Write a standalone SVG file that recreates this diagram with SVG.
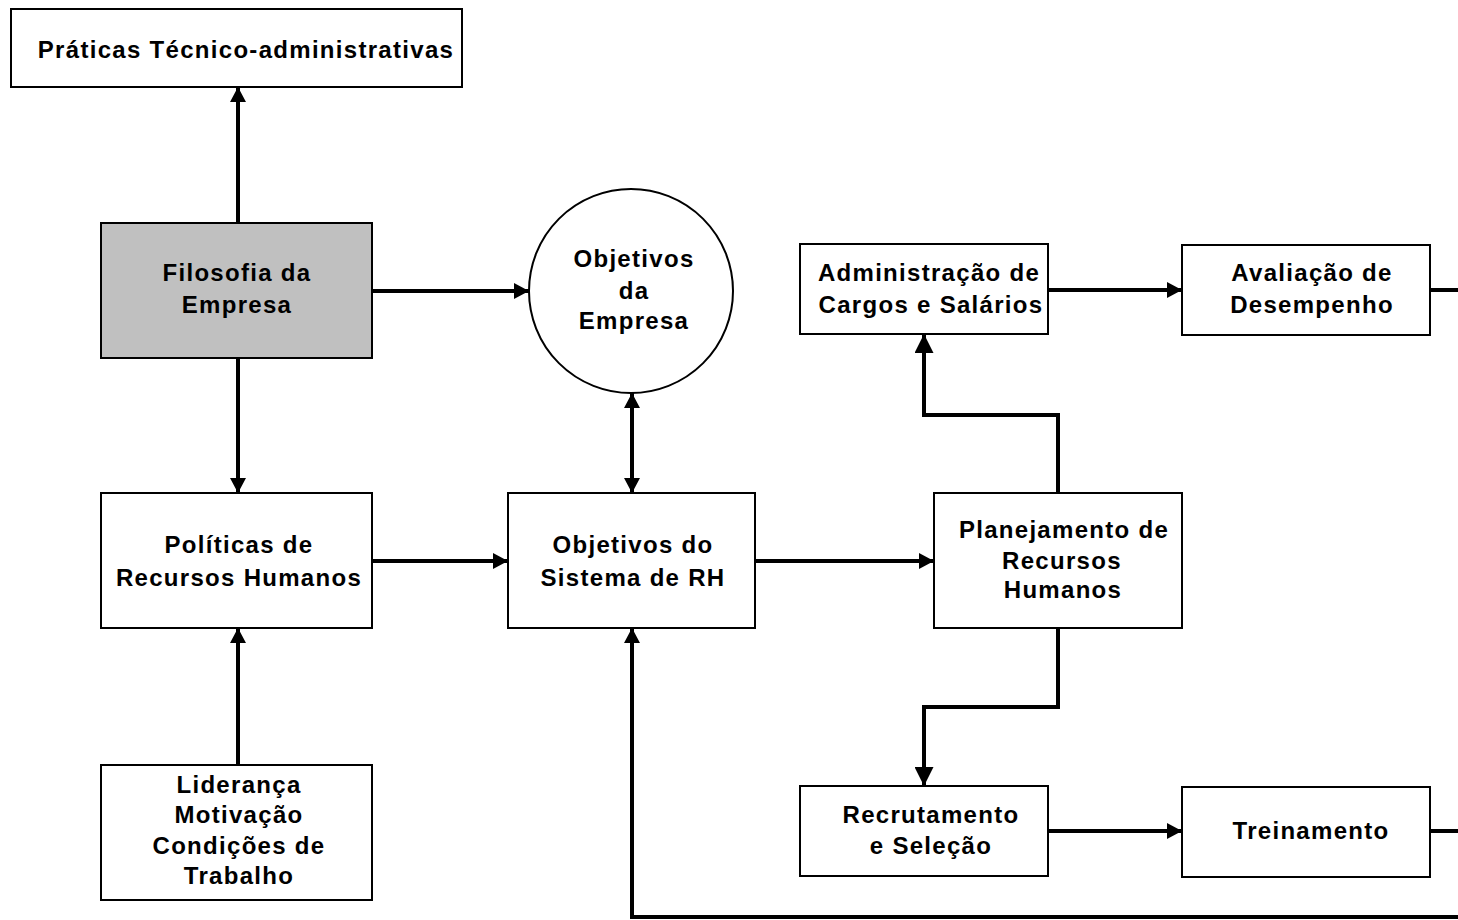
<svg xmlns="http://www.w3.org/2000/svg" width="1458" height="920" viewBox="0 0 1458 920">
<style>
.box{fill:#fff;stroke:#000;stroke-width:2}
.grey{fill:#c0c0c0}
.t{font-family:"Liberation Sans",Arial,sans-serif;font-weight:bold;font-size:24px;letter-spacing:1.3px;fill:#000;text-anchor:middle}
.c{fill:none;stroke:#000;stroke-width:4}
</style>
<defs>
<marker id="ah" markerUnits="userSpaceOnUse" markerWidth="15" markerHeight="16" refX="15" refY="8" orient="auto-start-reverse" viewBox="0 0 15 16">
<path d="M0,0 L15,8 L0,16 Z" fill="#000"/>
</marker>
<marker id="ahb" markerUnits="userSpaceOnUse" markerWidth="19" markerHeight="19" refX="19" refY="9.5" orient="auto" viewBox="0 0 19 19">
<path d="M0,0 L19,9.5 L0,19 Z" fill="#000"/>
</marker>
</defs>
<rect width="1458" height="920" fill="#fff"/>
<g id="connectors">
<path class="c" d="M238,223 V87" marker-end="url(#ah)"/>
<path class="c" d="M372,291 H529" marker-end="url(#ah)"/>
<path class="c" d="M238,358 V493" marker-end="url(#ah)"/>
<path class="c" d="M632,393 V493" marker-start="url(#ah)" marker-end="url(#ah)"/>
<path class="c" d="M238,765 V628" marker-end="url(#ah)"/>
<path class="c" d="M372,561 H508" marker-end="url(#ah)"/>
<path class="c" d="M755,561 H934" marker-end="url(#ah)"/>
<path class="c" d="M1058,493 V415 H924 V334" marker-end="url(#ahb)"/>
<path class="c" d="M1058,628 V707 H924 V786" marker-end="url(#ahb)"/>
<path class="c" d="M1048,290 H1182" marker-end="url(#ah)"/>
<path class="c" d="M1048,831 H1182" marker-end="url(#ah)"/>
<path class="c" d="M1430,290 H1458"/>
<path class="c" d="M1430,831 H1458"/>
<path class="c" d="M1458,917 H632 V628" marker-end="url(#ah)"/>
</g>
<g id="praticas"><rect class="box" x="11" y="9" width="451" height="78"/><text class="t" x="246" y="58">Práticas Técnico-administrativas</text></g>
<g id="filosofia"><rect class="box grey" x="101" y="223" width="271" height="135"/><text class="t" x="237" y="281">Filosofia da</text><text class="t" x="237" y="313">Empresa</text></g>
<g id="objetivos-empresa"><circle cx="631" cy="291" r="102" fill="#fff" stroke="#000" stroke-width="2"/><text class="t" x="634" y="267">Objetivos</text><text class="t" x="634" y="299">da</text><text class="t" x="634" y="329">Empresa</text></g>
<g id="politicas"><rect class="box" x="101" y="493" width="271" height="135"/><text class="t" x="239" y="553">Políticas de</text><text class="t" x="239" y="586">Recursos Humanos</text></g>
<g id="objetivos-rh"><rect class="box" x="508" y="493" width="247" height="135"/><text class="t" x="633" y="553">Objetivos do</text><text class="t" x="633" y="586">Sistema de RH</text></g>
<g id="planejamento"><rect class="box" x="934" y="493" width="248" height="135"/><text class="t" x="1064" y="538">Planejamento de</text><text class="t" x="1062" y="569">Recursos</text><text class="t" x="1063" y="598">Humanos</text></g>
<g id="administracao"><rect class="box" x="800" y="244" width="248" height="90"/><text class="t" x="929" y="281">Administração de</text><text class="t" x="931" y="313">Cargos e Salários</text></g>
<g id="avaliacao"><rect class="box" x="1182" y="245" width="248" height="90"/><text class="t" x="1312" y="281">Avaliação de</text><text class="t" x="1312" y="313">Desempenho</text></g>
<g id="recrutamento"><rect class="box" x="800" y="786" width="248" height="90"/><text class="t" x="931" y="823">Recrutamento</text><text class="t" x="931" y="854">e Seleção</text></g>
<g id="treinamento"><rect class="box" x="1182" y="787" width="248" height="90"/><text class="t" x="1311" y="839">Treinamento</text></g>
<g id="lideranca"><rect class="box" x="101" y="765" width="271" height="135"/><text class="t" x="239" y="793">Liderança</text><text class="t" x="239" y="823">Motivação</text><text class="t" x="239" y="854">Condições de</text><text class="t" x="239" y="884">Trabalho</text></g>
</svg>
